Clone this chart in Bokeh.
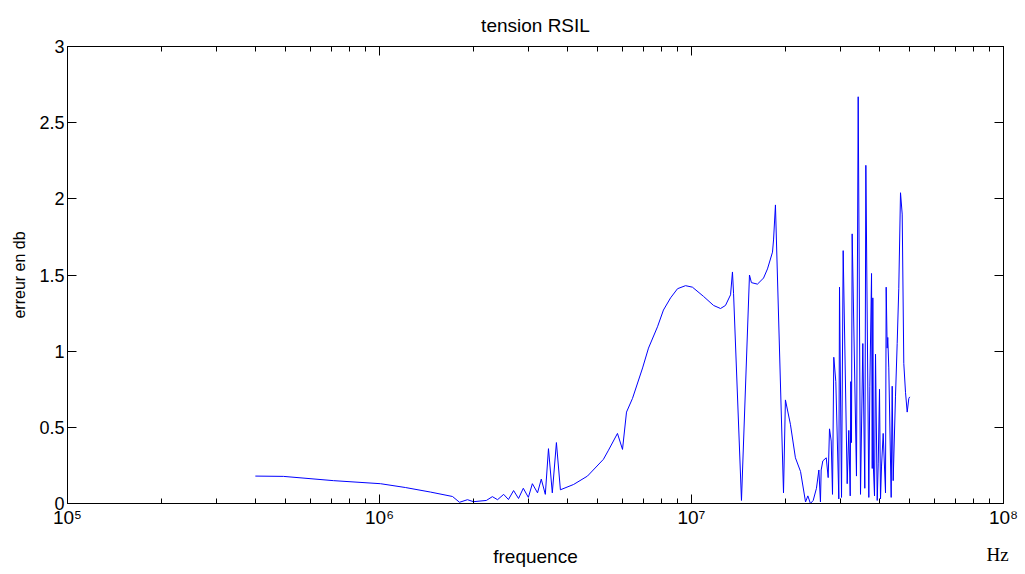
from bokeh.plotting import figure
from bokeh.models import (Range1d, LogAxis, LinearAxis, FixedTicker, CustomJSTickFormatter,
                          ColumnDataSource)
from bokeh.embed import file_html
from bokeh.resources import INLINE

# ---- data ----
freq_hz = [4.0e5, 4.92e5, 7.12e5, 1.007e6, 1.21e6, 1.457e6, 1.714e6, 1.805e6, 1.914e6, 2.0e6,
           2.20e6, 2.30e6, 2.39e6, 2.50e6, 2.59e6, 2.69e6, 2.79e6, 2.89e6, 3.0e6, 3.09e6,
           3.21e6, 3.30e6, 3.40e6, 3.48e6, 3.58e6, 3.69e6, 3.80e6, 4.19e6, 4.64e6, 5.22e6,
           5.42e6, 5.79e6, 6.01e6, 6.19e6, 6.47e6, 6.97e6, 7.28e6, 7.78e6, 8.13e6, 8.57e6,
           9.02e6, 9.57e6, 1.007e7, 1.092e7, 1.177e7, 1.239e7, 1.285e7, 1.334e7, 1.353e7, 1.364e7,
           1.446e7, 1.534e7, 1.556e7, 1.627e7, 1.702e7, 1.752e7, 1.818e7, 1.832e7, 1.858e7,
           1.972e7, 2.0e7, 2.075e7, 2.153e7, 2.236e7, 2.32e7, 2.36e7, 2.405e7, 2.455e7, 2.515e7,
           2.56e7, 2.59e7, 2.604e7, 2.636e7, 2.703e7, 2.742e7, 2.769e7, 2.804e7, 2.831e7, 2.858e7,
           2.901e7, 2.966e7, 2.981e7, 3.026e7, 3.063e7, 3.155e7, 3.193e7, 3.226e7, 3.240e7, 3.257e7,
           3.273e7, 3.379e7, 3.422e7, 3.481e7, 3.541e7, 3.593e7, 3.621e7, 3.701e7, 3.729e7, 3.776e7,
           3.796e7, 3.812e7, 3.831e7, 3.860e7, 3.889e7, 3.938e7, 3.967e7, 4.005e7, 4.035e7, 4.064e7,
           4.115e7, 4.186e7, 4.207e7, 4.238e7, 4.257e7, 4.289e7, 4.365e7, 4.398e7, 4.430e7, 4.506e7,
           4.563e7, 4.617e7, 4.676e7, 4.735e7, 4.791e7, 4.852e7, 4.913e7, 4.972e7, 5.008e7]
erreur_db = [0.18, 0.178, 0.15, 0.13, 0.105, 0.075, 0.046, 0.008, 0.025, 0.012,
             0.02, 0.045, 0.025, 0.06, 0.026, 0.085, 0.033, 0.10, 0.04, 0.13,
             0.07, 0.16, 0.06, 0.36, 0.07, 0.40, 0.09, 0.125, 0.18, 0.29,
             0.35, 0.46, 0.355, 0.60, 0.69, 0.89, 1.02, 1.16, 1.27, 1.35,
             1.41, 1.43, 1.42, 1.36, 1.30, 1.28, 1.30, 1.37, 1.52, 1.38,
             0.02, 1.50, 1.45, 1.44, 1.48, 1.54, 1.65, 1.73, 1.96,
             0.07, 0.68, 0.52, 0.30, 0.21, 0.01, 0.05, 0.0, 0.02, 0.10,
             0.22, 0.01, 0.22, 0.28, 0.30, 0.17, 0.49, 0.41, 0.06, 0.96,
             0.80, 0.03, 1.42, 0.04, 1.66, 0.13, 0.48, 0.05, 0.80, 0.40,
             1.77, 0.18, 2.67, 0.06, 1.05, 0.10, 2.22, 0.04, 0.77, 1.51,
             0.23, 1.35, 0.22, 0.05, 0.98, 0.02, 0.26, 0.75, 0.03, 0.24,
             0.46, 0.07, 1.42, 1.02, 1.09, 0.89, 0.04, 0.77, 0.15, 0.70,
             1.05, 1.41, 2.04, 1.90, 0.92, 0.73, 0.60, 0.69, 0.70]

x_major_ticks = [1e5, 1e6, 1e7, 1e8]
y_ticks = [0, 0.5, 1, 1.5, 2, 2.5, 3]
title_text = "tension RSIL"
x_label = "frequence"
y_label = "erreur en db"
unit_text = "Hz"
unit_pos = [9.57e7]   # where the unit text sits along the x axis

FONT = "Liberation Sans"

x_minor_ticks = [m * d for d in x_major_ticks[:-1] for m in range(2, 10)]

p = figure(width=1025, height=574, x_axis_type="log",
           x_range=Range1d(1e5, 1e8), y_range=Range1d(0, 3),
           output_backend="svg", toolbar_location=None,
           min_border_left=67, min_border_right=22, min_border_top=46, min_border_bottom=71)

p.title.text = title_text
p.title.align = "center"
p.title.text_font = FONT
p.title.text_font_size = "19px"
p.title.text_font_style = "normal"
p.title.text_color = "black"
p.title.standoff = 22

p.xgrid.visible = False
p.ygrid.visible = False
p.outline_line_color = "black"
p.outline_line_alpha = 1.0
p.background_fill_color = "white"
p.border_fill_color = "white"

src = ColumnDataSource(dict(f=freq_hz, e=erreur_db))
p.line("f", "e", source=src, line_color="#0000ff", line_width=1)

sup_js = """
const sup = {'0':'\u2070','1':'\u00b9','2':'\u00b2','3':'\u00b3','4':'\u2074','5':'\u2075','6':'\u2076','7':'\u2077','8':'\u2078','9':'\u2079'};
const e = String(Math.round(Math.log10(tick)));
let s = '';
for (const c of e) { s += sup[c]; }
return '10' + s;
"""

xt = FixedTicker(ticks=x_major_ticks, minor_ticks=x_minor_ticks)
yt = FixedTicker(ticks=y_ticks, minor_ticks=[])

def style(ax):
    ax.axis_line_color = "black"
    ax.major_tick_line_color = "black"
    ax.minor_tick_line_color = "black"
    ax.major_tick_in = 9
    ax.major_tick_out = 0
    ax.minor_tick_in = 5
    ax.minor_tick_out = 0
    ax.major_label_text_font = FONT
    ax.major_label_text_color = "black"
    ax.axis_label_text_font = FONT
    ax.axis_label_text_font_style = "normal"
    ax.axis_label_text_color = "black"

xa = p.xaxis[0]
style(xa)
xa.ticker = xt
xa.formatter = CustomJSTickFormatter(code=sup_js)
xa.major_label_text_font_size = "19px"
xa.major_label_standoff = 3
xa.axis_label = x_label
xa.axis_label_text_font_size = "19px"
xa.axis_label_standoff = 15

ya = p.yaxis[0]
style(ya)
ya.ticker = yt
ya.formatter = CustomJSTickFormatter(code="return String(tick);")
ya.major_label_text_font_size = "18px"
ya.major_label_standoff = 3
ya.axis_label = y_label
ya.axis_label_text_font_size = "16px"
ya.axis_label_standoff = 8

top = LogAxis(ticker=xt)
style(top)
top.major_label_text_font_size = "2px"
top.major_label_text_alpha = 0
top.major_label_standoff = 0
p.add_layout(top, "above")

right = LinearAxis(ticker=yt)
style(right)
right.major_label_text_font_size = "2px"
right.major_label_text_alpha = 0
right.major_label_standoff = 0
p.add_layout(right, "right")

# unit text "Hz" below the last decade label, as a tick label of a bare extra axis
unit_axis = LogAxis(ticker=FixedTicker(ticks=unit_pos, minor_ticks=[]),
                    formatter=CustomJSTickFormatter(args=dict(lab=unit_text), code="return lab;"))
unit_axis.axis_line_color = None
unit_axis.major_tick_line_color = None
unit_axis.minor_tick_line_color = None
unit_axis.major_label_text_font = "Liberation Serif"
unit_axis.major_label_text_font_size = "19px"
unit_axis.major_label_text_color = "black"
unit_axis.major_label_standoff = -32
p.add_layout(unit_axis, "below")

open("out.html", "w").write(file_html(p, INLINE))
